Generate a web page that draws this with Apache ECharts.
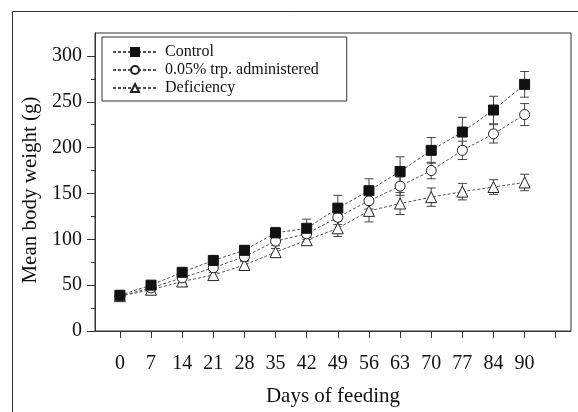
<!DOCTYPE html>
<html>
<head>
<meta charset="utf-8">
<script src="https://cdn.jsdelivr.net/npm/echarts@6/dist/echarts.min.js"></script>
<style>html,body{margin:0;padding:0;background:#fff;}#c{width:578px;height:412px;}</style>
</head>
<body>
<div id="c"></div>
<script>
const days = ['0','7','14','21','28','35','42','49','56','63','70','77','84','90'];
const seriesNames = ['Control','0.05% trp. administered','Deficiency'];
const controlMean = [39, 50, 64, 77, 88, 107, 112, 134, 153, 174, 197, 217, 241, 269];
const controlErr  = [2, 3, 3, 4, 5, 6, 10, 14, 13, 16, 14, 16, 15, 14];
const trpMean = [38, 47, 58, 69, 81, 98, 106, 124, 142, 158, 175, 197, 215, 236];
const trpErr  = [2, 2, 3, 3, 4, 5, 6, 8, 9, 10, 9, 10, 10, 12];
const defMean = [38, 45, 54, 61, 72, 86, 99, 112, 131, 139, 146, 152, 157, 162];
const defErr  = [2, 2, 2, 3, 4, 4, 5, 9, 12, 12, 10, 9, 8, 9];
const yTicks = [0, 50, 100, 150, 200, 250, 300];

const FONT = "'Liberation Serif','Times New Roman',serif";
const chart = echarts.init(document.getElementById('c'), null, {renderer: 'canvas'});

function pts(arr) { return arr.map((v, i) => [i, v]); }
function errPts(m, e) { return m.map((v, i) => [i, v, e[i]]); }

function errSeries(m, e) {
  return {
    type: 'custom',
    data: errPts(m, e),
    z: 1,
    silent: true,
    renderItem: function (params, api) {
      const x = api.value(0), v = api.value(1), er = api.value(2);
      const hi = api.coord([x, v + er]);
      const lo = api.coord([x, v - er]);
      const w = 4.5;
      const st = {stroke: '#444', lineWidth: 1};
      return {
        type: 'group',
        children: [
          {type: 'line', shape: {x1: hi[0], y1: hi[1], x2: lo[0], y2: lo[1]}, style: st},
          {type: 'line', shape: {x1: hi[0] - w, y1: hi[1], x2: hi[0] + w, y2: hi[1]}, style: st},
          {type: 'line', shape: {x1: lo[0] - w, y1: lo[1], x2: lo[0] + w, y2: lo[1]}, style: st}
        ]
      };
    }
  };
}

const lineStyle = {color: '#555', width: 1, type: [3, 2]};

chart.setOption({
  animation: false,
  backgroundColor: '#fff',
  graphic: [{
    type: 'polyline',
    shape: {points: [[12.5, 420], [12.5, 11.5], [600, 11.5]]},
    style: {fill: 'none', stroke: '#333', lineWidth: 1}, silent: true, z: -10
  }],
  grid: {left: 95, right: 7, top: 33, bottom: 77, show: true, borderColor: '#333', borderWidth: 1, backgroundColor: 'transparent'},
  legend: {
    orient: 'vertical',
    left: 102, top: 37,
    padding: [7, 28, 5, 10],
    borderColor: '#333', borderWidth: 1,
    itemWidth: 44, itemHeight: 10, itemGap: 2,
    textStyle: {fontFamily: FONT, fontSize: 16, color: '#111', padding: [0, 0, 0, 3]},
    data: seriesNames
  },
  xAxis: {
    type: 'value',
    min: -0.8, max: 14.49,
    name: 'Days of feeding',
    nameLocation: 'middle', nameGap: 55,
    nameTextStyle: {fontFamily: FONT, fontSize: 21, color: '#111'},
    axisLine: {show: true, onZero: false, lineStyle: {color: '#333'}},
    axisTick: {show: true, length: 7, lineStyle: {color: '#333'}, customValues: [0,1,2,3,4,5,6,7,8,9,10,11,12,13,14]},
    axisLabel: {
      fontFamily: FONT, fontSize: 20, color: '#111', margin: 23,
      customValues: days.map((d, i) => i),
      formatter: function (v) { return days[Math.round(v)] || ''; }
    },
    splitLine: {show: false}
  },
  yAxis: {
    type: 'value',
    min: 0, max: 325, interval: 50,
    name: 'Mean body weight (g)',
    nameLocation: 'middle', nameGap: 54,
    nameTextStyle: {fontFamily: FONT, fontSize: 21, color: '#111', padding: [0, 16, 0, 0]},
    axisLine: {show: true, onZero: false, lineStyle: {color: '#333'}},
    axisTick: {show: true, length: 8, lineStyle: {color: '#333'}, customValues: yTicks},
    minorTick: {show: true, splitNumber: 2, length: 4, lineStyle: {color: '#333'}},
    axisLabel: {fontFamily: FONT, fontSize: 20, color: '#111', margin: 13, customValues: yTicks},
    splitLine: {show: false},
    minorSplitLine: {show: false}
  },
  series: [
    errSeries(controlMean, controlErr),
    errSeries(trpMean, trpErr),
    errSeries(defMean, defErr),
    {
      name: seriesNames[0], type: 'line', data: pts(controlMean), z: 5,
      symbol: 'rect', symbolSize: 10,
      itemStyle: {color: '#111', borderColor: '#111', borderWidth: 1},
      lineStyle: lineStyle
    },
    {
      name: seriesNames[1], type: 'line', data: pts(trpMean), z: 4,
      symbol: 'circle', symbolSize: 10,
      itemStyle: {color: '#fff', borderColor: '#222', borderWidth: 1},
      lineStyle: lineStyle
    },
    {
      name: seriesNames[2], type: 'line', data: pts(defMean), z: 3,
      symbol: 'triangle', symbolSize: 11,
      itemStyle: {color: '#fff', borderColor: '#222', borderWidth: 1},
      lineStyle: lineStyle
    }
  ]
});
</script>
</body>
</html>
